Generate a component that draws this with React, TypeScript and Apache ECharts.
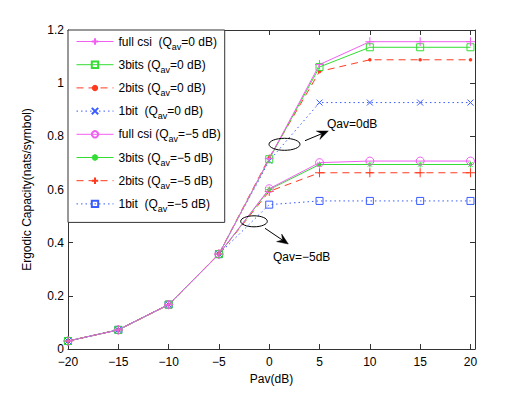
import React, { useEffect, useRef } from "react";
import * as echarts from "echarts";

const pav = [-20, -15, -10, -5, 0, 5, 10, 15, 20];
const fullCsi0 = [0.03, 0.072, 0.167, 0.357, 0.716, 1.07, 1.156, 1.156, 1.156];
const bits3_0 = [0.03, 0.072, 0.167, 0.357, 0.714, 1.061, 1.135, 1.135, 1.135];
const bits2_0 = [0.03, 0.072, 0.167, 0.358, 0.72, 1.044, 1.088, 1.088, 1.088];
const bit1_0 = [0.03, 0.072, 0.167, 0.357, 0.708, 0.927, 0.927, 0.927, 0.927];
const fullCsi5 = [0.03, 0.072, 0.167, 0.357, 0.603, 0.701, 0.707, 0.707, 0.707];
const bits3_5 = [0.03, 0.072, 0.167, 0.357, 0.6, 0.694, 0.694, 0.694, 0.694];
const bits2_5 = [0.03, 0.072, 0.167, 0.357, 0.593, 0.663, 0.663, 0.663, 0.663];
const bit1_5 = [0.03, 0.072, 0.167, 0.357, 0.543, 0.557, 0.557, 0.557, 0.557];

const names = [
  "full csi  (Q{s|av}=0 dB)",
  "3bits (Q{s|av}=0 dB)",
  "2bits (Q{s|av}=0 dB)",
  "1bit  (Q{s|av}=0 dB)",
  "full csi (Q{s|av}=\u22125 dB)",
  "3bits (Q{s|av}=\u22125 dB)",
  "2bits (Q{s|av}=\u22125 dB)",
  "1bit  (Q{s|av}=\u22125 dB)",
];

const MAG = "#f060f0";
const GRN = "#33dd33";
const RED = "#ff3b1f";
const BLU = "#3a5cff";

const PLUS = "path://M0,5L10,5M5,0L5,10";
const XMARK = "path://M0,0L10,10M0,10L10,0";
const STAR = "path://M0,5L10,5M5,0L5,10M1.5,1.5L8.5,8.5M1.5,8.5L8.5,1.5";

export default function App() {
  const ref = useRef<HTMLDivElement>(null);
  useEffect(() => {
    if (!ref.current) return;
    const chart = echarts.init(ref.current, null, { renderer: "svg" });
    const font = "Liberation Sans, Arial, Helvetica, sans-serif";
    const mk = (
      i: number,
      vals: number[],
      color: string,
      type: any,
      symbol: string,
      size: number,
      filled: boolean
    ) => ({
      name: names[i],
      type: "line",
      data: pav.map((x, k) => [x, vals[k]]),
      symbol,
      symbolSize: size,
      showSymbol: true,
      z: 10 - i,
      lineStyle: { color, width: 1, type },
      itemStyle: filled
        ? { color, borderColor: color, borderWidth: 0 }
        : { color: "none", borderColor: color, borderWidth: 1 },
    });
    const series = [
      mk(0, fullCsi0, MAG, "solid", PLUS, 9, false),
      mk(1, bits3_0, GRN, "solid", "rect", 7, false),
      mk(2, bits2_0, RED, [7, 5], "circle", 3.5, true),
      mk(3, bit1_0, BLU, [1.5, 3], XMARK, 6, false),
      mk(4, fullCsi5, MAG, "solid", "circle", 8, false),
      mk(5, bits3_5, GRN, "solid", STAR, 6, false),
      mk(6, bits2_5, RED, [7, 5], PLUS, 9, false),
      mk(7, bit1_5, BLU, [1.5, 3], "rect", 7, false),
    ];

    const arrow = (x1: number, y1: number, x2: number, y2: number) => {
      const dx = x2 - x1, dy = y2 - y1;
      const L = Math.hypot(dx, dy);
      const ux = dx / L, uy = dy / L;
      const nx = -uy, ny = ux;
      const hl = 11, hw = 4.5, notch = 7;
      const bx = x2 - hl * ux, by = y2 - hl * uy;
      return [
        {
          type: "line",
          shape: { x1, y1, x2: x2 - notch * ux, y2: y2 - notch * uy },
          style: { stroke: "#000", lineWidth: 1 },
        },
        {
          type: "polygon",
          shape: {
            points: [
              [x2, y2],
              [bx + hw * nx, by + hw * ny],
              [x2 - notch * ux, y2 - notch * uy],
              [bx - hw * nx, by - hw * ny],
            ],
          },
          style: { fill: "#000", stroke: "#000", lineWidth: 0.5 },
        },
      ];
    };

    const minus = (v: number) => {
      const r = Math.round(v * 10) / 10;
      return String(r).replace("-", "\u2212");
    };

    const axisLine = { show: true, onZero: false, lineStyle: { color: "#333", width: 1 } };
    const axisTick = { inside: true, length: 5, lineStyle: { color: "#333" } };

    chart.setOption({
      animation: false,
      backgroundColor: "#fff",
      textStyle: { fontFamily: font },
      grid: { left: 68, top: 30, right: 50, bottom: 45, containLabel: false },
      xAxis: [
        {
          type: "value",
          min: -20,
          max: 20.45,
          interval: 5,
          name: "Pav(dB)",
          nameLocation: "middle",
          nameGap: 24,
          nameTextStyle: { color: "#000", fontSize: 12, fontFamily: font },
          axisLine,
          axisTick,
          axisLabel: {
            color: "#000",
            fontSize: 12,
            margin: 7,
            fontFamily: font,
            formatter: (v: number) => (Math.abs(v % 5) < 1e-9 ? minus(v) : ""),
          },
          splitLine: { show: false },
        },
        {
          type: "value",
          position: "top",
          min: -20,
          max: 20.45,
          interval: 5,
          axisLine,
          axisTick,
          axisLabel: { show: false },
          splitLine: { show: false },
        },
      ],
      yAxis: [
        {
          type: "value",
          min: 0,
          max: 1.2,
          interval: 0.2,
          name: "Ergodic Capacity(nats/symbol)",
          nameLocation: "middle",
          nameGap: 35,
          nameRotate: 90,
          nameTextStyle: { color: "#000", fontSize: 12, fontFamily: font },
          axisLine,
          axisTick,
          axisLabel: { color: "#000", fontSize: 12, margin: 4, fontFamily: font, formatter: minus },
          splitLine: { show: false },
        },
        {
          type: "value",
          position: "right",
          min: 0,
          max: 1.2,
          interval: 0.2,
          axisLine,
          axisTick,
          axisLabel: { show: false },
          splitLine: { show: false },
        },
      ],
      legend: {
        left: 68,
        top: 30,
        orient: "vertical",
        backgroundColor: "#fff",
        borderColor: "#333",
        borderWidth: 1,
        borderRadius: 0,
        padding: [2, 4, 9, 8],
        itemWidth: 37,
        itemHeight: 8,
        itemGap: 4.2,
        selectedMode: false,
        data: names,
        lineStyle: { width: 1 },
        textStyle: {
          color: "#000",
          fontSize: 12,
          fontFamily: font,
          lineHeight: 14,
          rich: {
            s: { fontSize: 9, lineHeight: 9, padding: [10, 0, 0, 0], fontFamily: font, color: "#000" },
          },
        },
      },
      series,
      graphic: [
        {
          type: "ellipse",
          shape: { cx: 284.5, cy: 144.3, rx: 15.5, ry: 6 },
          style: { fill: "none", stroke: "#000", lineWidth: 1 },
          z: 100,
        },
        {
          type: "ellipse",
          shape: { cx: 254, cy: 221.3, rx: 13.3, ry: 5.5 },
          style: { fill: "none", stroke: "#000", lineWidth: 1 },
          z: 100,
        },
        ...arrow(305, 140.7, 328.3, 131).map((g) => ({ ...g, z: 100 })),
        ...arrow(265, 228.3, 288.3, 244).map((g) => ({ ...g, z: 100 })),
        {
          type: "text",
          x: 327,
          y: 124.3,
          z: 100,
          style: { text: "Qav=0dB", fill: "#000", font: `12px ${font}`, verticalAlign: "middle" },
        },
        {
          type: "text",
          x: 273,
          y: 257.3,
          z: 100,
          style: { text: "Qav=\u22125dB", fill: "#000", font: `12px ${font}`, verticalAlign: "middle" },
        },
      ],
    });
    return () => chart.dispose();
  }, []);
  return <div ref={ref} style={{ width: 525, height: 394, margin: -8 }} />;
}
